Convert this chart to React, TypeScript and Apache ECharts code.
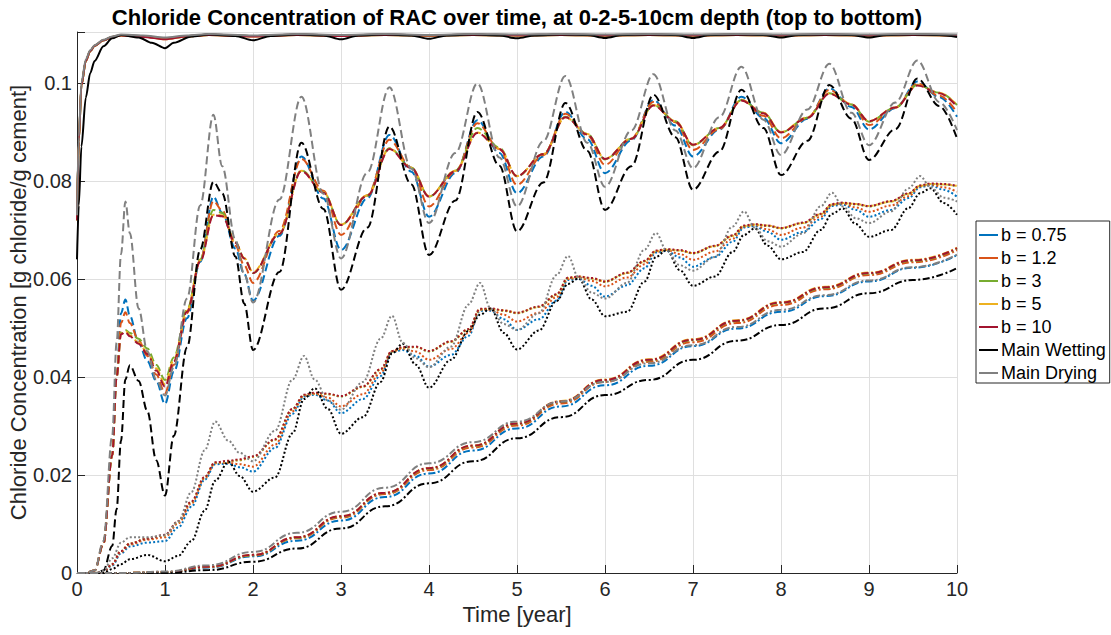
import React, { useEffect, useRef } from "react";
import * as echarts from "echarts";

// ---------- legend / styling meta ----------
const seriesNames = ["b = 0.75", "b = 1.2", "b = 3", "b = 5", "b = 10", "Main Wetting", "Main Drying"];
const seriesColors = ["#0072BD", "#D95319", "#77AC30", "#EDB120", "#A2142F", "#000000", "#808080"];
const yTickLabels = ["0", "0.02", "0.04", "0.06", "0.08", "0.1"];
const titleText = "Chloride Concentration of RAC over time, at 0-2-5-10cm depth (top to bottom)";
const xName = "Time [year]";
const yName = "Chloride Concentration [g chloride/g cement]";

// ---------- 0 cm (solid) ----------
const topX = [0, 0.02, 0.05, 0.1, 0.15, 0.2, 0.3, 0.4, 0.5, 0.75, 1, 1.25, 1.5, 2, 2.5, 3, 3.5, 4, 4.5, 5, 5.5, 6, 6.5, 7, 7.5, 8, 8.5, 9, 9.5, 10];
const topBlackX = [0, 0.02, 0.05, 0.1, 0.15, 0.2, 0.3, 0.4, 0.5, 0.7, 0.85, 1, 1.1, 1.3, 1.5, 1.8, 2, 2.2, 2.5, 2.8, 3, 3.2, 3.5, 3.8, 4, 4.2, 4.5, 4.8, 5, 5.2, 5.5, 5.8, 6, 6.2, 6.5, 6.8, 7, 7.2, 7.5, 7.8, 8, 8.2, 8.5, 8.8, 9, 9.2, 9.5, 9.8, 10];
const top075 = [0.072, 0.088, 0.0995, 0.1045, 0.1065, 0.1076, 0.1087, 0.1094, 0.1098, 0.1096, 0.1091, 0.1096, 0.1099, 0.1096, 0.1099, 0.1097, 0.1099, 0.1097, 0.1099, 0.1098, 0.1099, 0.1098, 0.1099, 0.1098, 0.1099, 0.1098, 0.1099, 0.1098, 0.1099, 0.1098];
const top12 = [0.072, 0.088, 0.0995, 0.1045, 0.1065, 0.1076, 0.1087, 0.1094, 0.1098, 0.1096, 0.109, 0.1096, 0.1099, 0.1096, 0.1099, 0.1097, 0.1099, 0.1097, 0.1099, 0.1098, 0.1099, 0.1098, 0.1099, 0.1098, 0.1099, 0.1098, 0.1099, 0.1098, 0.1099, 0.1098];
const top3 = [0.072, 0.088, 0.0995, 0.1045, 0.1065, 0.1076, 0.1087, 0.1094, 0.1097, 0.1095, 0.109, 0.1095, 0.1098, 0.1096, 0.1098, 0.1097, 0.1098, 0.1097, 0.1098, 0.1097, 0.1098, 0.1097, 0.1098, 0.1097, 0.1098, 0.1097, 0.1098, 0.1097, 0.1098, 0.1097];
const top5 = [0.072, 0.088, 0.0995, 0.1045, 0.1065, 0.1076, 0.1087, 0.1094, 0.1097, 0.1095, 0.1089, 0.1095, 0.1098, 0.1095, 0.1098, 0.1096, 0.1098, 0.1097, 0.1098, 0.1097, 0.1098, 0.1097, 0.1098, 0.1097, 0.1098, 0.1097, 0.1098, 0.1097, 0.1098, 0.1097];
const top10 = [0.072, 0.088, 0.0995, 0.1045, 0.1065, 0.1076, 0.1087, 0.1094, 0.1097, 0.1094, 0.1089, 0.1095, 0.1098, 0.1095, 0.1098, 0.1096, 0.1098, 0.1097, 0.1098, 0.1097, 0.1098, 0.1097, 0.1098, 0.1097, 0.1098, 0.1097, 0.1098, 0.1097, 0.1098, 0.1097];
const topWet = [0.064, 0.075, 0.087, 0.097, 0.102, 0.1045, 0.1075, 0.1091, 0.1098, 0.1093, 0.1082, 0.1071, 0.1082, 0.1095, 0.1099, 0.1096, 0.1087, 0.1096, 0.1099, 0.1097, 0.1089, 0.1097, 0.1099, 0.1097, 0.109, 0.1097, 0.1099, 0.1097, 0.1091, 0.1097, 0.1099, 0.1098, 0.1092, 0.1098, 0.1099, 0.1098, 0.1092, 0.1098, 0.1099, 0.1098, 0.1093, 0.1098, 0.1099, 0.1098, 0.1093, 0.1098, 0.1099, 0.1098, 0.1094];
const topDry = [0.073, 0.089, 0.1, 0.1048, 0.1067, 0.1077, 0.1088, 0.1095, 0.1099, 0.1097, 0.1093, 0.1097, 0.11, 0.1097, 0.11, 0.1098, 0.11, 0.1098, 0.11, 0.1099, 0.11, 0.1099, 0.11, 0.1099, 0.11, 0.1099, 0.11, 0.1099, 0.11, 0.1099];

// ---------- 2 cm (dashed) ----------
const d2X = [0, 0.1, 0.2, 0.3, 0.4, 0.45, 0.5, 0.55, 0.6, 0.7, 0.8, 0.9, 1, 1.1, 1.25, 1.4, 1.55, 1.65, 1.8, 1.9, 2,
  2.3, 2.55, 2.8, 3, 3.3, 3.55, 3.8, 4, 4.3, 4.55, 4.8, 5, 5.3, 5.55, 5.8, 6, 6.3, 6.55, 6.8, 7,
  7.3, 7.55, 7.8, 8, 8.3, 8.55, 8.8, 9, 9.3, 9.55, 9.8, 10];
const d2b075 = [0, 0, 0.0005, 0.006, 0.024, 0.04, 0.053, 0.0558, 0.0525, 0.047, 0.0432, 0.0392, 0.0345, 0.041, 0.052, 0.0635, 0.0768, 0.0735, 0.0662, 0.061, 0.0556,
  0.0688, 0.085, 0.0764, 0.0659, 0.0765, 0.0894, 0.0819, 0.0727, 0.0816, 0.0924, 0.0857, 0.0775, 0.085, 0.0941, 0.0885, 0.0816, 0.0883, 0.0965, 0.0913, 0.085,
  0.0905, 0.0972, 0.0929, 0.0877, 0.0927, 0.0989, 0.0951, 0.0905, 0.0949, 0.1003, 0.0971, 0.0931];
const d2b12 = [0, 0, 0.0005, 0.006, 0.024, 0.04, 0.051, 0.0532, 0.051, 0.0475, 0.0443, 0.0405, 0.0367, 0.0425, 0.053, 0.0638, 0.0759, 0.074, 0.0668, 0.0628, 0.0592,
  0.0698, 0.0845, 0.078, 0.069, 0.0771, 0.0884, 0.0827, 0.0748, 0.0819, 0.0918, 0.0865, 0.0792, 0.0853, 0.0937, 0.0893, 0.0833, 0.0887, 0.0961, 0.092, 0.0863,
  0.0906, 0.0966, 0.0933, 0.0887, 0.0929, 0.0986, 0.0956, 0.0914, 0.095, 0.0999, 0.0974, 0.094];
const d2b3 = [0, 0, 0.0005, 0.006, 0.024, 0.04, 0.049, 0.0496, 0.049, 0.0478, 0.0458, 0.0425, 0.0394, 0.044, 0.0537, 0.064, 0.0741, 0.0735, 0.0675, 0.0642, 0.0612,
  0.0692, 0.0822, 0.0777, 0.071, 0.077, 0.0867, 0.0827, 0.0768, 0.0821, 0.0908, 0.0868, 0.0809, 0.0855, 0.0931, 0.0896, 0.0844, 0.0886, 0.0955, 0.0922, 0.0873,
  0.0908, 0.0965, 0.0939, 0.0899, 0.0929, 0.0979, 0.0956, 0.0921, 0.095, 0.0996, 0.098, 0.0955];
const d2b5 = [0, 0, 0.0005, 0.006, 0.024, 0.04, 0.0488, 0.0494, 0.0485, 0.047, 0.045, 0.0418, 0.0385, 0.0435, 0.0535, 0.0638, 0.0731, 0.073, 0.0675, 0.0643, 0.0614,
  0.0693, 0.0821, 0.0777, 0.0711, 0.0771, 0.0866, 0.0827, 0.0769, 0.0821, 0.0899, 0.0866, 0.081, 0.0855, 0.093, 0.0896, 0.0845, 0.0887, 0.0955, 0.0922, 0.0874,
  0.0908, 0.0965, 0.0939, 0.09, 0.093, 0.0979, 0.0957, 0.0922, 0.095, 0.0996, 0.098, 0.0955];
const d2b10 = [0, 0, 0.0005, 0.006, 0.024, 0.04, 0.0487, 0.0492, 0.0483, 0.0468, 0.0447, 0.0413, 0.038, 0.0432, 0.0533, 0.0636, 0.073, 0.0728, 0.0674, 0.0642, 0.0612,
  0.0692, 0.082, 0.0776, 0.071, 0.077, 0.0865, 0.0826, 0.0768, 0.082, 0.0898, 0.0865, 0.081, 0.0855, 0.093, 0.0895, 0.0845, 0.0886, 0.0954, 0.0921, 0.0874,
  0.0908, 0.0964, 0.0938, 0.0899, 0.0929, 0.0978, 0.0956, 0.0922, 0.095, 0.0995, 0.0979, 0.0952];
const d2Wet = [0, 0, 0, 0.0005, 0.0055, 0.013, 0.027, 0.0395, 0.0424, 0.0392, 0.033, 0.023, 0.0158, 0.028, 0.046, 0.066, 0.0798, 0.0775, 0.0646, 0.055, 0.0455,
  0.0614, 0.0878, 0.0743, 0.0578, 0.0705, 0.0911, 0.0793, 0.0649, 0.076, 0.0941, 0.0831, 0.0697, 0.0797, 0.0959, 0.0861, 0.0741, 0.083, 0.0976, 0.0889, 0.0782,
  0.086, 0.0986, 0.0908, 0.0812, 0.0882, 0.0996, 0.0927, 0.0843, 0.0906, 0.1009, 0.0953, 0.0887];
const d2Dry = [0, 0, 0.0005, 0.0065, 0.028, 0.047, 0.065, 0.0758, 0.0694, 0.054, 0.0452, 0.0395, 0.0362, 0.042, 0.056, 0.075, 0.0935, 0.083, 0.068, 0.061, 0.0552,
  0.0762, 0.0972, 0.0774, 0.0642, 0.0817, 0.0991, 0.0825, 0.0714, 0.0857, 0.0999, 0.0848, 0.0748, 0.0881, 0.1014, 0.0878, 0.0788, 0.0903, 0.1018, 0.0903, 0.0826,
  0.093, 0.1033, 0.0925, 0.0853, 0.0946, 0.1039, 0.0939, 0.0873, 0.096, 0.1046, 0.0961, 0.0904];

// ---------- 5 cm (dotted) ----------
const d5X = [0, 0.2, 0.3, 0.4, 0.5, 0.6, 0.8, 1, 1.15, 1.3, 1.45, 1.57, 1.72, 1.85, 2,
  2.25, 2.45, 2.58, 2.7, 2.85, 3, 3.25, 3.45, 3.58, 3.7, 3.85, 4, 4.25, 4.45, 4.58, 4.7, 4.85, 5,
  5.25, 5.45, 5.58, 5.7, 5.85, 6, 6.25, 6.45, 6.58, 6.7, 6.85, 7, 7.25, 7.45, 7.58, 7.7, 7.85, 8,
  8.25, 8.45, 8.58, 8.7, 8.85, 9, 9.25, 9.45, 9.58, 9.7, 9.85, 10];
const d5b075 = [0, 0, 0.0002, 0.0015, 0.004, 0.0054, 0.0062, 0.0065, 0.0093, 0.0135, 0.019, 0.0222, 0.0223, 0.0216, 0.0207,
  0.0255, 0.0325, 0.036, 0.0364, 0.0352, 0.0326, 0.0355, 0.0402, 0.045, 0.0455, 0.0443, 0.0421, 0.0445, 0.0484, 0.0535, 0.0535, 0.0518, 0.0496,
  0.0518, 0.0556, 0.0598, 0.06, 0.0586, 0.0564, 0.0587, 0.0622, 0.0654, 0.0657, 0.0644, 0.0625, 0.0645, 0.0676, 0.0705, 0.0708, 0.0696, 0.068,
  0.0696, 0.0722, 0.0749, 0.0752, 0.0741, 0.0727, 0.0741, 0.0765, 0.0787, 0.0791, 0.0782, 0.0768];
const d5b12 = [0, 0, 0.0003, 0.0017, 0.0043, 0.0058, 0.0068, 0.0073, 0.0101, 0.0142, 0.0193, 0.0224, 0.0225, 0.0222, 0.0217,
  0.0262, 0.033, 0.0362, 0.0366, 0.0358, 0.034, 0.0365, 0.0408, 0.0452, 0.0458, 0.0452, 0.0435, 0.0457, 0.049, 0.0537, 0.0537, 0.0527, 0.0513,
  0.0531, 0.0563, 0.06, 0.0603, 0.0596, 0.0585, 0.0603, 0.063, 0.0656, 0.0659, 0.0651, 0.0639, 0.0656, 0.0682, 0.0707, 0.071, 0.0701, 0.069,
  0.0705, 0.0727, 0.0751, 0.0754, 0.0746, 0.0737, 0.075, 0.0769, 0.0789, 0.0793, 0.0787, 0.0778];
const d5b3 = [0, 0, 0.0003, 0.0018, 0.0045, 0.006, 0.007, 0.0077, 0.0105, 0.0145, 0.0195, 0.0225, 0.0228, 0.023, 0.0237,
  0.0272, 0.0335, 0.0363, 0.0367, 0.0365, 0.036, 0.038, 0.0415, 0.0452, 0.046, 0.0461, 0.0452, 0.0472, 0.0497, 0.0538, 0.0539, 0.0535, 0.053,
  0.0543, 0.0568, 0.0602, 0.0604, 0.0601, 0.0594, 0.0612, 0.0636, 0.0657, 0.066, 0.0658, 0.0652, 0.0667, 0.0688, 0.0708, 0.0711, 0.0708, 0.0703,
  0.0714, 0.0732, 0.0752, 0.0755, 0.0752, 0.0748, 0.0758, 0.0774, 0.079, 0.0794, 0.0793, 0.0789];
const d5b5 = [0, 0, 0.0003, 0.0018, 0.0045, 0.006, 0.007, 0.0077, 0.0105, 0.0145, 0.0195, 0.0225, 0.0228, 0.0231, 0.0237,
  0.0272, 0.0334, 0.0363, 0.0367, 0.0365, 0.0361, 0.038, 0.0415, 0.0453, 0.046, 0.0461, 0.0453, 0.0472, 0.0497, 0.0538, 0.0539, 0.0536, 0.0531,
  0.0543, 0.0568, 0.0602, 0.0605, 0.0601, 0.0595, 0.0612, 0.0636, 0.0657, 0.066, 0.0658, 0.0653, 0.0667, 0.0688, 0.0708, 0.0711, 0.0709, 0.0704,
  0.0714, 0.0732, 0.0752, 0.0755, 0.0753, 0.0749, 0.0758, 0.0774, 0.079, 0.0794, 0.0793, 0.079];
const d5b10 = [0, 0, 0.0003, 0.0018, 0.0045, 0.006, 0.007, 0.0078, 0.0106, 0.0146, 0.0196, 0.0226, 0.0229, 0.0232, 0.0238,
  0.0273, 0.0335, 0.0364, 0.0368, 0.0366, 0.0361, 0.0381, 0.0416, 0.0453, 0.0461, 0.0462, 0.0453, 0.0473, 0.0498, 0.0539, 0.054, 0.0536, 0.0531,
  0.0544, 0.0569, 0.0603, 0.0605, 0.0602, 0.0595, 0.0613, 0.0637, 0.0658, 0.0661, 0.0659, 0.0653, 0.0668, 0.0689, 0.0709, 0.0712, 0.0709, 0.0704,
  0.0715, 0.0733, 0.0753, 0.0756, 0.0753, 0.0749, 0.0759, 0.0775, 0.0791, 0.0795, 0.0794, 0.079];
const d5Wet = [0, 0, 0, 0.0008, 0.0018, 0.0028, 0.0037, 0.0024, 0.0035, 0.0065, 0.0127, 0.0188, 0.0227, 0.0198, 0.0166,
  0.0195, 0.0285, 0.0355, 0.0377, 0.0335, 0.0284, 0.0318, 0.039, 0.0448, 0.0468, 0.0425, 0.0378, 0.0435, 0.0494, 0.0527, 0.054, 0.049, 0.0456,
  0.0495, 0.0555, 0.059, 0.0601, 0.0558, 0.0524, 0.0533, 0.0595, 0.0645, 0.0659, 0.0618, 0.0586, 0.0605, 0.0655, 0.069, 0.0703, 0.0668, 0.064,
  0.0655, 0.07, 0.0733, 0.0744, 0.0712, 0.0686, 0.07, 0.0745, 0.0775, 0.0785, 0.0755, 0.0731];
const d5Dry = [0, 0, 0.0004, 0.003, 0.0062, 0.0073, 0.0073, 0.0077, 0.0105, 0.0165, 0.025, 0.0309, 0.027, 0.0245, 0.0228,
  0.029, 0.0395, 0.0443, 0.0395, 0.0352, 0.0333, 0.039, 0.0478, 0.0525, 0.047, 0.0438, 0.042, 0.0462, 0.0548, 0.0592, 0.054, 0.0508, 0.0496,
  0.053, 0.0608, 0.0647, 0.0603, 0.0572, 0.056, 0.0592, 0.066, 0.0694, 0.0658, 0.0628, 0.0617, 0.0645, 0.0707, 0.0738, 0.0705, 0.0677, 0.0666,
  0.0693, 0.0748, 0.0776, 0.0748, 0.0724, 0.0714, 0.0738, 0.0785, 0.081, 0.0787, 0.0766, 0.0758];

// ---------- 10 cm (dash-dot) ----------
const d10X = [0, 0.5, 1, 1.5, 2, 2.5, 3, 3.5, 4, 4.5, 5, 5.5, 6, 6.5, 7, 7.5, 8, 8.5, 9, 9.5, 10];
const d10b075 = [0, 0, 0.0001, 0.0011, 0.0034, 0.0066, 0.0107, 0.0155, 0.0203, 0.025, 0.0295, 0.034, 0.0383, 0.0423, 0.0463, 0.0499, 0.0533, 0.0565, 0.0595, 0.0623, 0.0649];
const d10b12 = [0, 0, 0.0002, 0.0012, 0.0036, 0.0071, 0.0113, 0.0161, 0.021, 0.0256, 0.0301, 0.0346, 0.039, 0.0431, 0.0471, 0.051, 0.0547, 0.0579, 0.0608, 0.0634, 0.0659];
const d10b3 = [0, 0, 0.0002, 0.0013, 0.0036, 0.0072, 0.0115, 0.0163, 0.0213, 0.0259, 0.0304, 0.0349, 0.0393, 0.0434, 0.0475, 0.0514, 0.0551, 0.0582, 0.0611, 0.0637, 0.0662];
const d10b5 = [0, 0, 0.0002, 0.0013, 0.0037, 0.0073, 0.0116, 0.0164, 0.0214, 0.026, 0.0306, 0.0351, 0.0395, 0.0436, 0.0477, 0.0516, 0.0553, 0.0584, 0.0613, 0.0639, 0.0664];
const d10b10 = [0, 0, 0.0002, 0.0013, 0.0037, 0.0073, 0.0116, 0.0164, 0.0214, 0.026, 0.0305, 0.035, 0.0394, 0.0435, 0.0476, 0.0515, 0.0552, 0.0583, 0.0612, 0.0638, 0.0663];
const d10Wet = [0, 0, 0, 0.0006, 0.0023, 0.005, 0.0091, 0.0136, 0.0183, 0.0228, 0.0275, 0.0318, 0.0363, 0.0394, 0.0435, 0.0474, 0.0506, 0.054, 0.0571, 0.0598, 0.0622];
const d10Dry = [0, 0, 0.0003, 0.0016, 0.0043, 0.0082, 0.0125, 0.0174, 0.0224, 0.0267, 0.0309, 0.035, 0.039, 0.0428, 0.0465, 0.0502, 0.0537, 0.0567, 0.0597, 0.0624, 0.065];

const topSets = [top075, top12, top3, top5, top10, topWet, topDry];
const d2Sets = [d2b075, d2b12, d2b3, d2b5, d2b10, d2Wet, d2Dry];
const d5Sets = [d5b075, d5b12, d5b3, d5b5, d5b10, d5Wet, d5Dry];
const d10Sets = [d10b075, d10b12, d10b3, d10b5, d10b10, d10Wet, d10Dry];

const FONT = '"Liberation Sans", Arial, Helvetica, sans-serif';

function pairs(xs: number[], ys: number[]) {
  return xs.map((x, i) => [x, ys[i]]);
}

export default function App() {
  const ref = useRef<HTMLDivElement>(null);
  useEffect(() => {
    if (!ref.current) return;
    const chart = echarts.init(ref.current, undefined, { renderer: "svg" });
    const series: any[] = [];
    seriesNames.forEach((name, i) => {
      const color = seriesColors[i];
      const base = {
        type: "line",
        showSymbol: false,
        symbol: "none",
        silent: true,
        smoothMonotone: "x",
        color,
        itemStyle: { color },
      };
      series.push({
        ...base,
        name,
        smooth: 0.3,
        data: pairs(i === 5 ? topBlackX : topX, topSets[i]),
        lineStyle: { color, width: 2, type: "solid" },
      });
      series.push({
        ...base,
        name: name + " (2 cm)",
        smooth: 0.35,
        data: pairs(d2X, d2Sets[i]),
        lineStyle: { color, width: 2, type: [8, 4], cap: "butt" },
      });
      series.push({
        ...base,
        name: name + " (5 cm)",
        smooth: 0.35,
        data: pairs(d5X, d5Sets[i]),
        lineStyle: { color, width: 2, type: [2, 2.2], cap: "butt" },
      });
      series.push({
        ...base,
        name: name + " (10 cm)",
        smooth: 0.5,
        data: pairs(d10X, d10Sets[i]),
        lineStyle: { color, width: 2, type: [7, 2.5, 2, 2.5], cap: "butt" },
      });
    });

    const option: any = {
      animation: false,
      textStyle: { fontFamily: FONT },
      grid: { left: 77, right: 154, top: 32, bottom: 62, containLabel: false, outerBoundsMode: "none" },
      graphic: [
        {
          type: "text",
          x: 517,
          y: 17,
          silent: true,
          style: {
            text: titleText,
            fill: "#000",
            font: "bold 22px " + FONT,
            align: "center",
            verticalAlign: "middle",
          },
        },
      ],
      legend: {
        data: seriesNames.map((n) => ({ name: n, icon: "rect" })),
        orient: "vertical",
        left: 976,
        top: 221,
        itemWidth: 19,
        itemHeight: 2,
        itemGap: 3,
        padding: [4, 4, 0, 3],
        borderColor: "#262626",
        borderWidth: 1,
        borderRadius: 0,
        backgroundColor: "#ffffff",
        selectedMode: false,
        textStyle: { fontSize: 18, color: "#000", fontFamily: FONT, lineHeight: 20, padding: [0, 0, 0, -2] },
      },
      xAxis: {
        type: "value",
        min: 0,
        max: 10,
        interval: 1,
        name: xName,
        nameLocation: "middle",
        nameGap: 30,
        nameMoveOverlap: false,
        nameTextStyle: { fontSize: 22, color: "#262626", fontFamily: FONT },
        axisLine: { show: true, onZero: false, lineStyle: { color: "#262626", width: 1 } },
        axisTick: { show: true, inside: true, length: 8, lineStyle: { color: "#262626", width: 1 } },
        axisLabel: { fontSize: 20, color: "#262626", margin: 6, fontFamily: FONT },
        splitLine: { show: true, lineStyle: { color: "#dfdfdf", width: 1 } },
      },
      yAxis: {
        type: "value",
        min: 0,
        max: 0.1104,
        interval: 0.02,
        name: yName,
        nameLocation: "middle",
        nameGap: 48,
        nameRotate: 90,
        nameMoveOverlap: false,
        nameTextStyle: { fontSize: 22, color: "#262626", fontFamily: FONT },
        axisLine: { show: true, onZero: false, lineStyle: { color: "#262626", width: 1 } },
        axisTick: { show: true, inside: true, length: 8, lineStyle: { color: "#262626", width: 1 } },
        axisLabel: {
          fontSize: 20,
          color: "#262626",
          margin: 5,
          fontFamily: FONT,
          formatter: (v: number) => {
            const idx = Math.round(v / 0.02);
            if (Math.abs(v - idx * 0.02) > 1e-6) return "";
            return yTickLabels[idx] ?? "";
          },
        },
        splitLine: { show: true, lineStyle: { color: "#dfdfdf", width: 1 } },
      },
      series,
    };
    chart.setOption(option);
    return () => chart.dispose();
  }, []);
  return (
    <div
      ref={ref}
      style={{ position: "absolute", left: 0, top: 0, width: 1111, height: 635, background: "#fff" }}
    />
  );
}
